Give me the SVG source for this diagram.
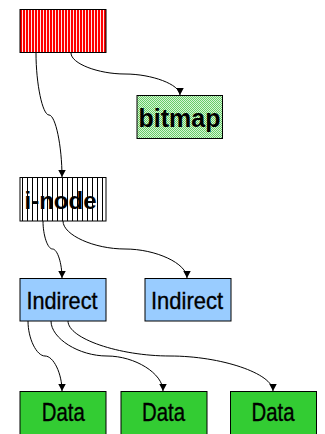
<svg xmlns="http://www.w3.org/2000/svg" width="325" height="434" viewBox="0 0 325 434">
<defs>
<pattern id="redStripes" patternUnits="userSpaceOnUse" x="20" y="0" width="3" height="10">
<rect width="3" height="10" fill="#FFE6E6"/>
<rect width="2" height="10" fill="#FF0000"/>
</pattern>
<pattern id="blackStripes" patternUnits="userSpaceOnUse" x="22" y="0" width="5" height="10">
<rect width="5" height="10" fill="#FFFFFF"/>
<rect width="1" height="10" fill="#000000"/>
</pattern>
<pattern id="greenChecker" patternUnits="userSpaceOnUse" width="2" height="2">
<rect width="2" height="2" fill="#D6F5D6"/>
<rect width="1" height="1" fill="#66CC66"/>
<rect x="1" y="1" width="1" height="1" fill="#66CC66"/>
</pattern>
<marker id="arrow" markerUnits="userSpaceOnUse" markerWidth="9" markerHeight="9" refX="7.5" refY="4" orient="auto">
<path d="M0,0 L7.5,4 L0,8 Z" fill="#000"/>
</marker>
</defs>
<style>
.box{stroke:#000;stroke-width:1}
.conn{fill:none;stroke:#000;stroke-width:1;marker-end:url(#arrow)}
.bold{font-family:"Liberation Sans",Arial,sans-serif;font-weight:bold;fill:#000;text-anchor:middle}
.reg{font-family:"Liberation Sans",Arial,sans-serif;fill:#000;stroke:#000;stroke-width:0.35;text-anchor:middle}
</style>
<g id="connectors">
<path class="conn" d="M36,53 C36,84 42.5,115 49,115 C55.5,115 62,146 62,177"/>
<path class="conn" d="M71,53 C71,63.5 98,74 125,74 C152,74 180,84.5 180,95"/>
<path class="conn" d="M43,221 C43,235 47.5,249 52.5,249 C57.5,249 62,263.5 62,278"/>
<path class="conn" d="M63,221 C63,235 94,249 125,249 C156,249 187,263.5 187,278"/>
<path class="conn" d="M28,321 C28,338.5 36.5,356 45,356 C53.5,356 62,373.5 62,391"/>
<path class="conn" d="M51,321 C51,338.5 79,356 107,356 C135,356 163,373.5 163,391"/>
<path class="conn" d="M68,321 C68,338.5 119,356 170,356 C221,356 273,373.5 273,391"/>
</g>
<g id="root">
<rect class="box" x="20" y="9.5" width="86" height="43" fill="url(#redStripes)"/>
</g>
<g id="bitmap">
<rect class="box" x="137" y="95.5" width="85.5" height="43" fill="url(#greenChecker)"/>
<text class="bold" x="179.5" y="127" font-size="25">bitmap</text>
</g>
<g id="inode">
<rect class="box" x="20" y="177.5" width="86" height="43.5" fill="url(#blackStripes)"/>
<text class="bold" x="60.5" y="209" font-size="24">i-node</text>
</g>
<g id="indirect1">
<rect class="box" x="20" y="278.5" width="86" height="42.5" fill="#99CCFF"/>
<text class="reg" x="62" y="309" font-size="24" textLength="71" lengthAdjust="spacingAndGlyphs">Indirect</text>
</g>
<g id="indirect2">
<rect class="box" x="145" y="278.5" width="86" height="42.5" fill="#99CCFF"/>
<text class="reg" x="187" y="309" font-size="24" textLength="72" lengthAdjust="spacingAndGlyphs">Indirect</text>
</g>
<g id="data1">
<rect class="box" x="20" y="391.5" width="86" height="45" fill="#33CC33"/>
<text class="reg" x="63.3" y="421" font-size="25" textLength="43" lengthAdjust="spacingAndGlyphs">Data</text>
</g>
<g id="data2">
<rect class="box" x="121" y="391.5" width="86" height="45" fill="#33CC33"/>
<text class="reg" x="163.5" y="421" font-size="25" textLength="43" lengthAdjust="spacingAndGlyphs">Data</text>
</g>
<g id="data3">
<rect class="box" x="230.5" y="391.5" width="86" height="45" fill="#33CC33"/>
<text class="reg" x="273" y="421" font-size="25" textLength="43" lengthAdjust="spacingAndGlyphs">Data</text>
</g>
</svg>
